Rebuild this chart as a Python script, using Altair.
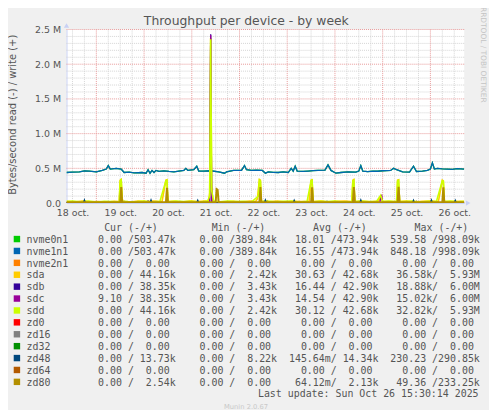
import json
import altair as alt
import pandas as pd

# ---------------- data (hours since 18 oct 00:00, values in kB/s) ----------------
nvme_hours = [9, 12, 15.5, 18, 20.5, 24, 27, 29, 30, 31, 34, 36.5, 38, 40.5, 43, 47, 49, 50, 51, 52, 53, 54, 55.5,
              58, 60.5, 63, 65.5, 68, 69, 70, 73, 74.5, 75.5, 78, 81.5, 85.5, 88.5, 89.5, 93, 97, 98.5, 99.5, 102,
              104.5, 107.5, 109, 110.5, 113, 115.5, 118, 120.5, 122, 123, 124, 125, 128, 130.5, 133, 135.5, 139,
              140.5, 142, 144.5, 147, 150.5, 154.5, 156, 157, 158, 160.5, 163, 165.5, 168, 172, 173.5, 175, 178,
              181.5, 183.5, 185, 188, 190.5, 192, 193, 194, 195.5, 198, 200.5, 203, 205.5, 209]
nvme_write = [440, 445, 450, 462, 460, 450, 470, 490, 540, 490, 500, 490, 440, 445, 435, 440, 430, 480, 430, 470,
              440, 470, 455, 462, 455, 450, 460, 470, 500, 470, 480, 530, 460, 460, 465, 450, 430, 450, 470, 470,
              540, 480, 470, 475, 470, 430, 450, 442, 440, 448, 440, 500, 460, 530, 460, 455, 460, 466, 470, 475,
              550, 470, 430, 440, 450, 445, 460, 540, 460, 452, 460, 458, 465, 470, 500, 480, 450, 445, 530, 455,
              460, 470, 490, 580, 490, 500, 492, 490, 486, 495, 490]

sda_hours = [9, 13, 17, 21, 25, 29, 33, 35.5, 36, 36.5, 37, 37.5, 41, 45, 49, 53, 57, 59, 59.5, 60, 63, 67, 71, 75, 79,
             80.5, 81, 81.5, 82, 82.5, 85, 89, 93, 97, 101, 104, 105, 106, 106.5, 107, 111, 115, 119, 123, 127, 131,
             132, 132.5, 133, 137, 141, 145, 149, 152.5, 153, 153.5, 154, 158, 162, 166, 167, 168, 172, 175, 175.5,
             176, 176.5, 180, 184, 188, 192, 196, 198, 198.5, 199, 203, 207, 209]
sda_write = [25, 15, 30, 18, 22, 12, 26, 20, 330, 340, 60, 20, 15, 28, 20, 30, 18, 330, 335, 20, 25, 15, 28, 20, 30,
             25, 150, 2380, 250, 30, 22, 18, 25, 15, 30, 20, 60, 340, 330, 25, 18, 28, 15, 25, 20, 22,
             330, 335, 20, 28, 15, 25, 30, 20, 330, 340, 20, 25, 18, 28, 90, 25, 20, 25, 330,
             335, 20, 28, 15, 25, 30, 20, 330, 320, 25, 20, 25, 22]

sdd_hours = [9, 12, 16, 20, 24, 28, 32, 35.5, 36, 36.5, 37, 40, 44, 48, 52, 56, 59, 59.5, 60, 64, 68, 72, 76, 80,
             81, 81.5, 82, 83, 86, 90, 94, 98, 102, 105.5, 106, 106.5, 107, 110, 114, 118, 122, 126, 130, 132, 132.5,
             133, 136, 140, 144, 148, 152.5, 153, 153.5, 154, 157, 161, 165, 167, 168, 171, 175, 175.5, 176, 176.5,
             179, 183, 187, 191, 195, 198, 198.5, 199, 202, 206, 209]
sdd_write = [20, 30, 18, 28, 15, 25, 20, 15, 320, 335, 30, 22, 18, 30, 15, 25, 320, 330, 18, 28, 20, 25, 15, 30,
             100, 2360, 180, 25, 18, 28, 20, 25, 15, 100, 330, 320, 20, 28, 18, 25, 30, 15, 25, 320, 330,
             18, 25, 20, 30, 15, 18, 320, 330, 22, 28, 20, 25, 110, 20, 28, 18, 320, 330, 25,
             20, 28, 15, 25, 20, 320, 315, 22, 28, 18, 25]

sdb_hours = [9, 49.5, 50, 50.5, 80.5, 81, 81.5, 82, 82.5, 139.5, 140, 140.5, 209]
sdb_write = [4, 4, 30, 4, 4, 10, 2430, 10, 4, 4, 25, 4, 4]

sdc_hours = [9, 37.5, 38, 38.5, 81, 81.5, 82, 109.5, 110, 110.5, 166.5, 167.5, 168, 184.5, 185, 185.5, 209]
sdc_write = [4, 4, 25, 4, 4, 2420, 5, 4, 30, 4, 4, 120, 6, 4, 25, 4, 4]

zd48_hours = [9, 17.5, 18, 18.5, 51, 51.5, 52, 74.5, 75, 75.5, 108.5, 109, 109.5, 123, 123.5, 124, 156.5, 157,
              157.5, 183, 183.5, 184, 192, 192.5, 193, 204, 204.5, 205, 209]
zd48_write = [6, 6, 45, 6, 6, 45, 6, 6, 40, 6, 6, 45, 6, 6, 42, 6, 6, 45, 6, 6, 40, 6, 6, 45, 6, 6, 40, 6, 6]

zd80_hours = [9, 36, 36.5, 37, 59, 59.5, 60, 84, 84.5, 85, 85.5, 106, 106.5, 107, 132, 132.5, 133, 153, 153.5,
              154, 175.5, 176, 176.5, 198, 198.5, 199, 209]
zd80_write = [10, 10, 230, 10, 10, 220, 10, 10, 200, 190, 10, 10, 230, 10, 10, 225, 10, 10, 230, 10, 10, 233, 10,
              10, 225, 10, 10]

zero_hours = [9, 209]
zero_write = [0, 0]

# legend table
names = ["nvme0n1", "nvme1n1", "nvme2n1", "sda", "sdb", "sdc", "sdd",
         "zd0", "zd16", "zd32", "zd48", "zd64", "zd80"]
colors = ["#00CC00", "#0066B3", "#FF8000", "#FFCC00", "#330099", "#990099", "#CCFF00",
          "#FF0000", "#808080", "#008F00", "#00487D", "#B35A00", "#B38F00"]
cur_col = ["  0.00 /503.47k", "  0.00 /503.47k", "  0.00 /  0.00 ", "  0.00 / 44.16k", "  0.00 / 38.35k",
           "  9.10 / 38.35k", "  0.00 / 44.16k", "  0.00 /  0.00 ", "  0.00 /  0.00 ", "  0.00 /  0.00 ",
           "  0.00 / 13.73k", "  0.00 /  0.00 ", "  0.00 /  2.54k"]
min_col = ["  0.00 /389.84k", "  0.00 /389.84k", "  0.00 /  0.00 ", "  0.00 /  2.42k", "  0.00 /  3.43k",
           "  0.00 /  3.43k", "  0.00 /  2.42k", "  0.00 /  0.00 ", "  0.00 /  0.00 ", "  0.00 /  0.00 ",
           "  0.00 /  8.22k", "  0.00 /  0.00 ", "  0.00 /  0.00 "]
avg_col = [" 18.01 /473.94k", " 16.55 /473.94k", "  0.00 /  0.00 ", " 30.63 / 42.68k", " 16.44 / 42.90k",
           " 14.54 / 42.90k", " 30.12 / 42.68k", "  0.00 /  0.00 ", "  0.00 /  0.00 ", "  0.00 /  0.00 ",
           "145.64m/ 14.34k", "  0.00 /  0.00 ", " 64.12m/  2.13k"]
max_col = ["539.58 /998.09k", "848.18 /998.09k", "  0.00 /  0.00 ", " 36.58k/  5.93M", " 18.88k/  6.00M",
           " 15.02k/  6.00M", " 32.82k/  5.93M", "  0.00 /  0.00 ", "  0.00 /  0.00 ", "  0.00 /  0.00 ",
           "230.23 /290.85k", "  0.00 /  0.00 ", " 49.36 /233.25k"]
headers = ["Cur (-/+)", "Min (-/+)", "Avg (-/+)", "Max (-/+)"]
header_cols = [13, 31, 48, 65]

day_labels = ["18 oct.", "19 oct.", "20 oct.", "21 oct.", "22 oct.", "23 oct.", "24 oct.", "25 oct.", "26 oct."]
day_label_hours = [12, 36, 60, 84, 108, 132, 156, 180, 204]
y_tick_values = [0, 500000, 1000000, 1500000, 2000000, 2500000]
y_tick_labels = ["0.0", "0.5 M", "1.0 M", "1.5 M", "2.0 M", "2.5 M"]

title_text = "Throughput per device - by week"
y_title = "Bytes/second read (-) / write (+)"
last_update = "Last update: Sun Oct 26 15:30:14 2025"
watermark = "RRDTOOL / TOBI OETIKER"
munin_ver = "Munin 2.0.67"

# ---------------- layout / style ----------------
W, H = 401, 175
X_DOMAIN = [9, 209]
Y_DOMAIN = [0, 2500000]
AXIS_COLOR = "#C8D0F4"
FONT = "DejaVu Sans"
MONO = "DejaVu Sans Mono"
TXT = "#555555"
NB = "\u00a0"
CHAR_W = 6.02          # DejaVu Sans Mono advance at 10px
LEG_X = -40.3          # left edge of legend text (relative to plot origin)
ROW0 = 215             # alphabetic baseline of first legend row
ROW_H = 12

xs = alt.Scale(domain=X_DOMAIN, nice=False, zero=False)
ys = alt.Scale(domain=Y_DOMAIN, nice=False, zero=False)

x_axis = alt.Axis(
    values=day_label_hours, labelExpr=f"{json.dumps(day_labels)}[round((datum.value - 12) / 24)]",
    grid=False, ticks=False, domainColor=AXIS_COLOR, domainWidth=1, labelFont=FONT, labelFontSize=9.5,
    labelColor=TXT, labelPadding=5, title=None, labelFlush=False, labelOverlap=False)
y_axis = alt.Axis(
    values=y_tick_values, labelExpr=f"{json.dumps(y_tick_labels)}[round(datum.value / 500000)]",
    grid=False, ticks=False, domainColor=AXIS_COLOR, domainWidth=1, labelFont=FONT, labelFontSize=9.5,
    labelColor=TXT, labelPadding=6, title=None, labelOverlap=False, labelFlush=False)

XE = alt.X("h:Q", scale=xs, axis=x_axis)
YE = alt.Y("v:Q", scale=ys, axis=y_axis)


def sdf(hours, vals_k):
    return pd.DataFrame({"h": hours, "v": [v * 1000 for v in vals_k]})


def line(hours, vals, color, width=1.0):
    return alt.Chart(sdf(hours, vals)).mark_line(color=color, strokeWidth=width, clip=True).encode(x=XE, y=YE)


def vrules(hours, color):
    return alt.Chart(pd.DataFrame({"h": hours})).mark_rule(
        color=color, strokeDash=[1, 1], strokeWidth=1).encode(x=XE)


def hrules(vals, color):
    return alt.Chart(pd.DataFrame({"v": vals})).mark_rule(
        color=color, strokeDash=[1, 1], strokeWidth=1).encode(y=YE)


def text(s, x, y, **kw):
    return alt.Chart(pd.DataFrame({"t": [0]})).mark_text(**kw).encode(
        text=alt.value(s), x=alt.value(x), y=alt.value(y))


minor_x = [h for h in range(12, 209, 6) if h % 24]
major_x = list(range(24, 209, 24))
minor_y = [v for v in range(100000, 2500001, 100000) if v % 500000]
major_y = list(range(500000, 2500001, 500000))

grid = [vrules(minor_x, "#D4D4D4"), hrules(minor_y, "#D4D4D4"),
        vrules(major_x, "#E89A9A"), hrules(major_y, "#E89A9A")]

series = [
    line(nvme_hours, nvme_write, colors[0], 1.3),
    line(nvme_hours, nvme_write, colors[1], 1.3),
    line(zero_hours, zero_write, colors[2]),
    line(sda_hours, sda_write, colors[3], 1.6),
    line(sdb_hours, sdb_write, colors[4], 1.3),
    line(sdc_hours, sdc_write, colors[5], 1.3),
    line(sdd_hours, sdd_write, colors[6], 1.6),
    line(zero_hours, zero_write, colors[7]),
    line(zero_hours, zero_write, colors[8]),
    line(zero_hours, zero_write, colors[9]),
    line(zd48_hours, zd48_write, colors[10], 1.3),
    line(zero_hours, zero_write, colors[11]),
    line(zd80_hours, zd80_write, colors[12], 2),
]

arrows = [
    alt.Chart(pd.DataFrame({"a": [0]})).mark_point(
        shape="triangle-up", filled=True, color=AXIS_COLOR, size=28, opacity=1).encode(
        x=alt.value(0), y=alt.value(-4)),
    alt.Chart(pd.DataFrame({"a": [0]})).mark_point(
        shape="triangle-right", filled=True, color=AXIS_COLOR, size=28, opacity=1).encode(
        x=alt.value(405), y=alt.value(H)),
]

# legend table as one multi-line text block
rows = []
for i, n in enumerate(names):
    s = n.ljust(10) + cur_col[i] + "  " + min_col[i] + "  " + avg_col[i] + "  " + max_col[i]
    rows.append(s.replace(" ", NB))
legend_text = alt.Chart(pd.DataFrame({"t": [0]})).mark_text(
    align="left", baseline="alphabetic", font=MONO, fontSize=10, color=TXT, lineHeight=ROW_H).encode(
    x=alt.value(LEG_X), y=alt.value(ROW0), text=alt.value(rows))

swatches = [
    alt.Chart(pd.DataFrame({"t": [0]})).mark_square(size=42, opacity=1, color=c).encode(
        x=alt.value(-50), y=alt.value(ROW0 - 3.7 + ROW_H * i))
    for i, c in enumerate(colors)
]

header_layers = [
    text(hname, LEG_X + col * CHAR_W, ROW0 - ROW_H, align="left", baseline="alphabetic",
         font=MONO, fontSize=10, color=TXT)
    for col, hname in zip(header_cols, headers)
]
update_layer = text(last_update.replace(" ", NB), 415.5, ROW0 + ROW_H * 13, align="right",
                    baseline="alphabetic", font=MONO, fontSize=10, color=TXT)

title_layer = text(title_text, 181.3, -8.7, align="center", baseline="middle", font=FONT, fontSize=12.5, color=TXT)
ytitle_layer = text(y_title, -54, 86, align="center", baseline="middle", font=FONT, fontSize=10,
                    color=TXT, angle=270)
wm_layer = text(watermark, 419.5, 25.5, align="center", baseline="middle", font=FONT, fontSize=7.5,
                color="#C4C4C4", angle=90)
munin_layer = text(munin_ver, 181, 380.5, align="center", baseline="middle", font=FONT, fontSize=6.8,
                   color="#C8C8C8")

chart = alt.layer(
    *grid, *series, *arrows,
    *swatches, legend_text, *header_layers, update_layer,
    title_layer, ytitle_layer, wm_layer, munin_layer,
).properties(
    width=W, height=H,
    autosize=alt.AutoSizeParams(type="none"),
    padding={"left": 59, "top": 20, "right": 25, "bottom": 207},
    background="#F0F0F0",
).configure_view(fill="#FFFFFF", stroke=None)

chart.save("out.html", embed_options={"renderer": "svg", "actions": False})
